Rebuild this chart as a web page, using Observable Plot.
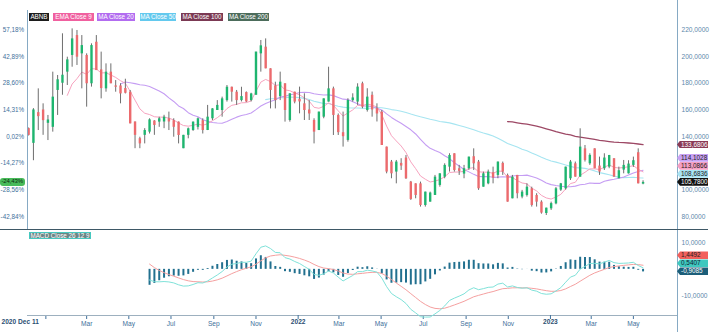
<!DOCTYPE html>
<html><head><meta charset="utf-8">
<script src="https://cdn.jsdelivr.net/npm/d3@7"></script>
<script src="https://cdn.jsdelivr.net/npm/@observablehq/plot@0.6"></script>
<style>
body{margin:0;background:#fff;}
#root{position:relative;width:715px;height:332px;overflow:hidden;font-family:"Liberation Sans",Arial,sans-serif;}
#root svg{position:absolute;left:0;overflow:visible;}
.tag{position:absolute;height:7.6px;line-height:7.8px;font-size:6.4px;white-space:nowrap;box-sizing:border-box;}
.rtag{left:677px;width:31px;padding-left:4px;clip-path:polygon(0 50%,3px 0,100% 0,100% 100%,3px 100%);}
.leg{position:absolute;height:7.6px;line-height:7.8px;font-size:6.3px;color:#fff;text-align:center;white-space:nowrap;}
.vline{position:absolute;width:1px;background:#86aac4;}
</style></head>
<body><div id="root"></div>
<script>
const dates = ["2020-12-07","2020-12-14","2020-12-21","2020-12-28",
"2021-01-04","2021-01-11","2021-01-18","2021-01-25","2021-02-01","2021-02-08","2021-02-15","2021-02-22","2021-03-01","2021-03-08","2021-03-15","2021-03-22","2021-03-29","2021-04-05","2021-04-12","2021-04-19","2021-04-26","2021-05-03","2021-05-10","2021-05-17","2021-05-24","2021-05-31","2021-06-07","2021-06-14","2021-06-21","2021-06-28","2021-07-05","2021-07-12","2021-07-19","2021-07-26","2021-08-02","2021-08-09","2021-08-16","2021-08-23","2021-08-30","2021-09-06","2021-09-13","2021-09-20","2021-09-27","2021-10-04","2021-10-11","2021-10-18","2021-10-25","2021-11-01","2021-11-08","2021-11-15","2021-11-22","2021-11-29","2021-12-06","2021-12-13","2021-12-20","2021-12-27",
"2022-01-03","2022-01-10","2022-01-17","2022-01-24","2022-01-31","2022-02-07","2022-02-14","2022-02-21","2022-02-28","2022-03-07","2022-03-14","2022-03-21","2022-03-28","2022-04-04","2022-04-11","2022-04-18","2022-04-25","2022-05-02","2022-05-09","2022-05-16","2022-05-23","2022-05-30","2022-06-06","2022-06-13","2022-06-20","2022-06-27","2022-07-04","2022-07-11","2022-07-18","2022-07-25","2022-08-01","2022-08-08","2022-08-15","2022-08-22","2022-08-29","2022-09-05","2022-09-12","2022-09-19","2022-09-26","2022-10-03","2022-10-10","2022-10-17","2022-10-24","2022-10-31","2022-11-07","2022-11-14","2022-11-21","2022-11-28","2022-12-05","2022-12-12","2022-12-19","2022-12-26",
"2023-01-02","2023-01-09","2023-01-16","2023-01-23","2023-01-30","2023-02-06","2023-02-13","2023-02-20","2023-02-27","2023-03-06","2023-03-13","2023-03-20","2023-03-27","2023-04-03","2023-04-10","2023-04-17","2023-04-24","2023-05-01","2023-05-08","2023-05-15"];

const open = [146,135,158,160,150,147,174.6,180,188.3,200.8,
215.7,202,200.8,179.6,210.7,190,175.8,188.3,178,178,
176,173.3,151,138.5,141,143.4,151.7,150.9,151,153.4,
152,150.9,131,141,144.6,147,152,144.6,153.4,159.6,
159.6,167,177,173.3,167,173,167,171,202,207,
190.8,178,170,179.6,152.1,173.3,168,164.6,160,152.1,
144.6,154.6,165.9,175.8,155.9,143,137.2,167,165.9,179.6,
159.6,171,161,158.4,132.2,121,113.5,120,124,106,
104.7,104.7,88.5,91,96,103.5,109.7,117.2,127.2,116,
112,116,125,121,102.2,104.7,113,111,120,111,
93.5,111,94.8,96,101,96,91,82.5,86,89.7,
100,101,108.5,119.7,109.7,130.9,119.7,130.9,118,116,
117.2,123.5,108.5,115,112.2,118.5,128,104.5];

const high = [146.5,161,175.8,164.6,155.9,188.3,185.8,217,199.5,220.7,
219.5,215.7,202,209.5,215.7,203.3,194.5,194.5,182,179.6,
183,174.6,151,139.6,146,153.4,152,154.6,156,158.4,
153.4,151,141,146.5,151,154,153.4,163.4,161,167,
169.6,178.3,177.1,174.6,177,173.5,172.5,203.3,212,213.2,
190.8,180.8,188.3,179.6,172.1,173.3,177.1,172.1,167,153.4,
158.4,168.3,192,177.1,157,158.4,168.4,172.1,179.6,180.8,
175.9,173.4,164.6,159.6,132.2,122.2,122.2,123.5,125.9,106.5,
104.7,106,98.5,98.5,111,112.2,119.7,127.2,127.2,118.5,
118.5,124.7,130.9,122.2,113.5,115,117.2,121,121,112,
111,111,99.8,104.7,102.2,97.3,92,86.5,91,102,
105,117.2,122.2,121,145.9,133.4,127.2,130.9,124.7,127.2,
126,123.5,117.2,122.2,122,124.7,130.9,107];

const low = [140.5,122,144.6,141,137.1,143.4,155.9,171,178.3,192,
193.3,175.8,162.1,177.1,189.5,168.3,173.3,179.6,173.3,164.6,
172,149.6,131,131,134.6,142,141,147,146,144.6,
139.6,134.6,131,138.4,144,145,142,144.6,152,159.6,
154.6,165.9,165.9,163.4,166,165.5,166,171,188.3,190.8,
160.8,160.8,167,150.9,150.9,164.6,157.1,152.1,152.1,134.6,
144.6,153.4,165.9,140.9,140.9,132.2,135.9,165.9,163.4,160.9,
158.4,154.6,151,133.4,112.2,108.5,104.7,114.7,108,92.3,
93.5,87.3,87.3,91,96,102.2,108.5,113.5,113.5,111,
108.5,114.7,114.7,99.8,102.2,104,104.7,108.5,111,91,
93.5,93.5,93.5,94.8,87.3,87.3,82,81,84.8,89,
99,100,107.2,109.7,109.7,121,118.5,116,111,114.7,
116,109.7,108.5,112.2,112,117,104.7,104];

const close = [141,160,155,152,152.5,169.6,182.6,186,197.5,213.2,
199.5,208.2,179.6,208.2,189.5,176,188.3,179.6,177,172,
172.5,149.6,141,134.6,144.6,152.6,148.4,153.4,154.6,151,
147,140.9,141,145.9,150.9,153.4,144.6,154.6,160.8,163.4,
168.3,177,173.3,167,170,166,172,203.3,208,190.8,
174.6,167,180.8,159.6,172.1,165.9,166,159.6,157,143.4,
158.4,168.3,175.8,155.9,143,140,167.1,169,177.1,162.1,
169.6,160,157,133.4,113.5,112.2,121,118,108.5,93,
96,88.5,98.5,97.8,109.7,112.2,118.5,125.9,114.7,114,
116,124.7,119.7,101,112.2,113.5,109,121,113.5,91,
109.7,97.3,98.5,102.2,88.5,91,82.8,86.5,89.9,101,
104.7,117.2,121,109.7,132.2,122.2,126,116,113.5,124,
125.9,109.7,114.5,118.5,119.5,122,104.7,105.78];

// axis tick values and labels
const priceTicks = [220,200,180,160,140,120,100,80];
const pctLabels = ["57,18%","42,89%","28,60%","14,31%","0,02%","-14,27%","-28,56%","-42,84%"];
const priceLabels = ["220,0000","200,0000","180,0000","160,0000","140,0000","","100,0000","80,0000"];
const macdTicks = [10,-10];
const macdLabels = ["10,0000","-10,0000"];
const monthTicks = ["2021-01-01","2021-03-01","2021-05-01","2021-07-01","2021-09-01","2021-11-01","2022-03-01","2022-05-01","2022-07-01","2022-09-01","2022-11-01","2023-03-01","2023-05-01"];
const monthLabels = ["","Mar","May","Jul","Sep","Nov","Mar","May","Jul","Sep","Nov","Mar","May"];
const yearTicks = ["2022-01-01","2023-01-01"];
const yearLabels = ["2022","2023"];
const startLabel = "2020 Dec 11";
const legendNames = ["ABNB","EMA Close 9","MA Close 20","MA Close 50","MA Close 100","MA Close 200"];
const macdLegend = "MACD Close 26 12 9";
// last-value tags
const priceTagValues = [133.6806,114.1028,113.0866,108.6836,105.78];
const priceTagLabels = ["133,6806","114,1028","113,0866","108,6836","105,7800"];
const pctTagValue = 105.78, pctTagLabel = "-24,43%";
const macdTagValues = [1.4492,0.5407,-0.9085];
const macdTagLabels = ["1,4492","0,5407","-0,9085"];

// style
const C = {green:"#1eb56f", red:"#ec6a6d", wick:"#6e6e6e", ema9:"#f7a3bf", ma20:"#c59df3", ma50:"#a6e5f1", ma100:"#9d4865",
  macd:"#7fe2d9", signal:"#f5a0a0", hist:"#22708f", axisText:"#41709b"};
const xDomain = [new Date("2020-12-05T10:00Z"), new Date("2023-07-03T20:00Z")];

const data = dates.map((d,i)=>({date:new Date(d+"T00:00Z"), open:open[i], high:high[i], low:low[i], close:close[i]}));
function ema(vals,n){const a=2/(n+1); let e=vals[0]; return vals.map((v,i)=> i===0? e : (e = a*v+(1-a)*e));}
function sma(vals,n){return vals.map((v,i)=> i<n-1? null : d3.mean(vals.slice(i-n+1,i+1)));}
const e9 = ema(close,9), m20 = sma(close,20), m50 = sma(close,50), m100 = sma(close,100);
const series = (arr, start)=> data.map((d,i)=>({date:d.date, v:arr[i]})).filter((d,i)=> i>=start && d.v!=null);
const e12 = ema(close,12), e26 = ema(close,26);
const macd = e12.map((v,i)=>v-e26[i]);
const sig = ema(macd,9);
const macdData = data.map((d,i)=>({date:d.date, m:macd[i], s:sig[i], h:macd[i]-sig[i]})).filter((d,i)=>i>=25);

const root = document.getElementById("root");
const font = '"Liberation Sans",Arial,sans-serif';

const main = Plot.plot({
  width:715, height:230, marginLeft:27, marginRight:38, marginTop:10, marginBottom:1,
  x:{type:"utc", domain:xDomain, axis:null},
  y:{domain:[70.52,234.45], axis:null},
  color:{type:"identity"},
  style:{fontSize:"7px", fontFamily:font, background:"transparent", overflow:"visible"},
  marks:[
    Plot.ruleX([xDomain[0], xDomain[1]], {stroke:"#86aac4"}),
    Plot.text(priceTicks, {y:d=>d, text:(d,i)=>pctLabels[i], frameAnchor:"left", dx:-3.5, textAnchor:"end", fill:C.axisText, fontSize:6.3}),
    Plot.text(priceTicks, {y:d=>d, text:(d,i)=>priceLabels[i], frameAnchor:"right", dx:4, textAnchor:"start", fill:"#5d88ab", fontSize:6.6}),
    Plot.line(series(m100,99), {x:"date", y:"v", stroke:C.ma100, strokeWidth:1.3}),
    Plot.line(series(m50,49), {x:"date", y:"v", stroke:C.ma50, strokeWidth:1.1}),
    Plot.line(series(m20,19), {x:"date", y:"v", stroke:C.ma20, strokeWidth:1.1}),
    Plot.line(series(e9,8), {x:"date", y:"v", stroke:C.ema9, strokeWidth:1}),
    Plot.ruleX(data, {x:"date", y1:"low", y2:"high", stroke:C.wick, strokeWidth:1}),
    Plot.ruleX(data, {x:"date", y1:"open", y2:"close", stroke:d=> d.close>=d.open? C.green : C.red, strokeWidth:2.4})
  ]
});
main.style.top = "0px";
root.appendChild(main);

const macdPlot = Plot.plot({
  width:715, height:102, marginLeft:27, marginRight:38, marginTop:0, marginBottom:17,
  x:{type:"utc", domain:xDomain, ticks:monthTicks.map(d=>new Date(d+"T00:00Z")),
     tickFormat:d=>monthLabels[monthTicks.indexOf(d.toISOString().slice(0,10))] ?? "", tickSize:4, tickPadding:2, label:null},
  y:{domain:[-17.65,14.86], axis:null},
  color:{type:"identity"},
  style:{fontSize:"6.6px", fontFamily:font, background:"transparent", overflow:"visible", color:C.axisText},
  marks:[
    Plot.ruleY([-17.65], {stroke:"#9db0bf"}),
    Plot.ruleX(yearTicks.map(d=>new Date(d+"T00:00Z")), {y1:-17.65, y2:-17.65, insetBottom:-4, stroke:C.axisText}),
    Plot.text(yearTicks, {x:d=>new Date(d+"T00:00Z"), text:(d,i)=>yearLabels[i], frameAnchor:"bottom", dy:8.5, fontWeight:"bold", fill:"#2c4f72"}),
    Plot.text([startLabel], {frameAnchor:"bottom-left", dx:-26, dy:8.5, textAnchor:"start", fontWeight:"bold", fill:"#2c4f72"}),
    Plot.text(macdTicks, {y:d=>d, text:(d,i)=>macdLabels[i], frameAnchor:"right", dx:4, textAnchor:"start", fill:"#5d88ab"}),
    Plot.ruleX(macdData, {x:"date", y1:0, y2:"h", stroke:C.hist, strokeWidth:2}),
    Plot.line(macdData, {x:"date", y:"s", stroke:C.signal, strokeWidth:1}),
    Plot.line(macdData, {x:"date", y:"m", stroke:C.macd, strokeWidth:1})
  ]
});
macdPlot.style.top = "230px";
root.appendChild(macdPlot);

// frame lines and panel separator
function div(cls, css, text){const e=document.createElement("div"); e.className=cls; Object.assign(e.style, css); if(text!=null) e.textContent=text; root.appendChild(e); return e;}
div("vline", {left:"27px", top:"11px", height:"218px"});
div("vline", {left:"677px", top:"0px", height:"332px"});
div("", {position:"absolute", left:"0px", top:"228.5px", width:"708px", height:"1.6px", background:"#3e5866"});

// top legend
const legendStyle = [[29,20,"#1c1c1c"],[53,41,"#f0609f"],[97,38,"#b26cf0"],[140,36,"#63c9ee"],[181,42,"#7b3953"],[228,41,"#4c6c5b"]];
legendNames.forEach((n,i)=>{const [l,w,bg]=legendStyle[i]; div("leg", {left:l+"px", top:"13.2px", width:w+"px", background:bg}, n);});
div("leg", {left:"29px", top:"231.5px", width:"62px", background:"#6a8585", border:"0.8px solid #46c8bf", boxSizing:"border-box", lineHeight:"6.4px"}, macdLegend);

// stacked tags
const yMain = main.scale("y"), yMacd = macdPlot.scale("y");
function stack(values, scale, offset){
  const order = values.map((v,i)=>i).sort((a,b)=>values[a]-values[b]);
  const pos = []; let prev = Infinity;
  order.forEach(i=>{const y = Math.min(offset + scale.apply(values[i]), prev - 8); pos[i]=y; prev=y;});
  return pos;
}
const ptStyle = [["#8a3a55","#fff"],["#c9a2f4","#222"],["#f59fc4","#222"],["#a9e3f3","#222"],["#111","#fff"]];
stack(priceTagValues, yMain, 0).forEach((y,i)=>{
  div("tag rtag", {top:(y-3.8)+"px", background:ptStyle[i][0], color:ptStyle[i][1]}, priceTagLabels[i]);
});
const mtStyle = [["#f2605c","#222"],["#3fc8bf","#123"],["#1c5e79","#fff"]];
stack(macdTagValues, yMacd, 230).forEach((y,i)=>{
  div("tag rtag", {top:(y-3.8)+"px", background:mtStyle[i][0], color:mtStyle[i][1]}, macdTagLabels[i]);
});
const gy = yMain.apply(pctTagValue);
div("tag", {left:"0px", width:"24.5px", top:(gy-3.8)+"px", background:"#48bb5a", color:"#0c2a10", borderRadius:"3px", textAlign:"center", fontSize:"6px", letterSpacing:"-0.1px"}, pctTagLabel);
</script></body></html>
